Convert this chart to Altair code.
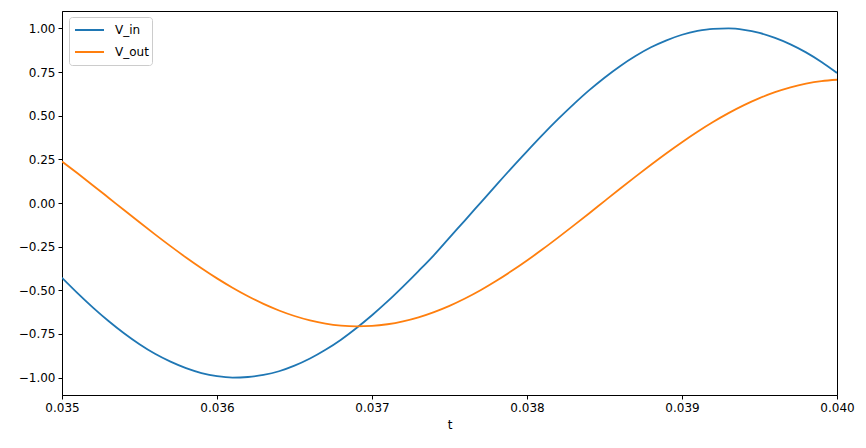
import altair as alt
import pandas as pd

t_vals = [round(0.035 + 0.0001 * i, 4) for i in range(51)]

v_in = [-0.428, -0.516, -0.599, -0.676, -0.746, -0.809, -0.864, -0.909, -0.946, -0.974,
        -0.992, -1.000, -0.997, -0.985, -0.964, -0.932, -0.891, -0.841, -0.783, -0.716,
        -0.643, -0.564, -0.479, -0.390, -0.298, -0.198, -0.099, 0.001, 0.101, 0.200,
        0.296, 0.390, 0.480, 0.565, 0.645, 0.718, 0.784, 0.842, 0.892, 0.932,
        0.964, 0.986, 0.998, 1.000, 0.992, 0.974, 0.946, 0.909, 0.863, 0.808,
        0.745]

v_out = [0.2377, 0.1701, 0.1007, 0.0303, -0.0404, -0.1106, -0.1798, -0.2472, -0.3121, -0.3738,
         -0.4319, -0.4855, -0.5344, -0.5781, -0.6157, -0.6474, -0.6725, -0.6911, -0.7025, -0.7070,
         -0.7044, -0.6947, -0.6780, -0.6549, -0.6249, -0.5891, -0.5471, -0.4999, -0.4472, -0.3902,
         -0.3294, -0.2655, -0.1985, -0.1297, -0.0597, 0.0110, 0.0815, 0.1512, 0.2194, 0.2855,
         0.3486, 0.4083, 0.4639, 0.5148, 0.5607, 0.6008, 0.6350, 0.6628, 0.6841, 0.6986,
         0.7060]

series_names = ["V_in", "V_out"]
series_colors = ["#1f77b4", "#ff7f0e"]
x_ticks = [0.035, 0.036, 0.037, 0.038, 0.039, 0.040]
y_ticks = [-1.0, -0.75, -0.5, -0.25, 0.0, 0.25, 0.5, 0.75, 1.0]

rows = []
for name, vals in zip(series_names, [v_in, v_out]):
    for t, v in zip(t_vals, vals):
        rows.append({"t": t, "value": v, "series": name, "order": t})
df = pd.DataFrame(rows)

font = "DejaVu Sans"

chart = alt.Chart(df).mark_line(strokeWidth=1.8, clip=True, interpolate="monotone").encode(
    x=alt.X("t:Q", title="t",
            scale=alt.Scale(domain=[0.035, 0.040], nice=False, zero=False),
            axis=alt.Axis(values=x_ticks, format=".3f", grid=False, tickSize=4,
                          labelFontSize=12, titleFontSize=12, labelColor="black",
                          titleColor="black", tickColor="black", domainColor="black",
                          labelFont=font, titleFont=font, titleFontWeight="normal",
                          labelPadding=3, titlePadding=6, labelFlush=False)),
    y=alt.Y("value:Q", title=None,
            scale=alt.Scale(domain=[-1.1, 1.1], nice=False, zero=False),
            axis=alt.Axis(values=y_ticks, format=".2f", grid=False, tickSize=4,
                          labelFontSize=12, labelColor="black", tickColor="black",
                          domainColor="black", labelFont=font, labelPadding=3)),
    color=alt.Color("series:N",
                    scale=alt.Scale(domain=series_names, range=series_colors),
                    legend=alt.Legend(title=None, orient="none", legendX=7, legendY=6,
                                      symbolType="stroke", symbolSize=841,
                                      symbolStrokeWidth=1.8, labelFontSize=12,
                                      labelFont=font, labelColor="black",
                                      strokeColor="#cccccc", fillColor="white",
                                      padding=3, cornerRadius=3, rowPadding=2,
                                      clipHeight=20, symbolOffset=2,
                                      labelOffset=10)),
    order="order:Q",
).properties(
    width=775, height=384,
    padding={"left": 54, "top": 3, "right": 21, "bottom": 45},
    autosize=alt.AutoSizeParams(type="none"),
    background="white",
).configure_view(stroke="black", strokeWidth=1)

chart.save("out.html", embed_options={"renderer": "svg", "actions": False})
